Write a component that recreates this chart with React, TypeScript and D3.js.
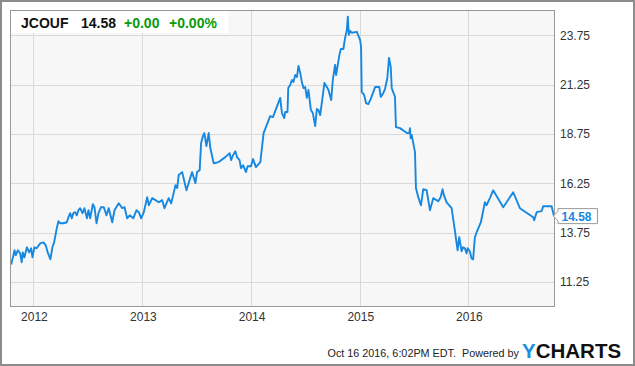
import React from "react";
import * as d3 from "d3";

// Decimal-year timestamps and closing prices
const times: number[] = [
  2011.795, 2011.807, 2011.826, 2011.837, 2011.856, 2011.878, 2011.892, 2011.902, 2011.917, 2011.94,
  2011.961, 2011.979, 2011.991, 2012.009, 2012.03, 2012.062, 2012.092, 2012.113, 2012.131, 2012.156,
  2012.174, 2012.19, 2012.214, 2012.23, 2012.245, 2012.275, 2012.306, 2012.321, 2012.337, 2012.352,
  2012.367, 2012.383, 2012.398, 2012.413, 2012.429, 2012.45, 2012.468, 2012.491, 2012.505, 2012.521,
  2012.545, 2012.56, 2012.579, 2012.597, 2012.62, 2012.646, 2012.67, 2012.691, 2012.723, 2012.744,
  2012.783, 2012.815, 2012.836, 2012.86, 2012.884, 2012.916, 2012.946, 2012.967, 2012.989, 2013.013,
  2013.044, 2013.059, 2013.09, 2013.12, 2013.151, 2013.182, 2013.203, 2013.242, 2013.265, 2013.283,
  2013.304, 2013.32, 2013.334, 2013.366, 2013.405, 2013.457, 2013.488, 2013.503, 2013.527, 2013.54,
  2013.557, 2013.57, 2013.589, 2013.61, 2013.625, 2013.656, 2013.702, 2013.763, 2013.803, 2013.816,
  2013.834, 2013.855, 2013.871, 2013.894, 2013.907, 2013.926, 2013.953, 2013.968, 2013.999, 2014.018,
  2014.045, 2014.085, 2014.115, 2014.176, 2014.201, 2014.268, 2014.284, 2014.305, 2014.314, 2014.335,
  2014.342, 2014.36, 2014.376, 2014.39, 2014.406, 2014.422, 2014.436, 2014.452, 2014.467, 2014.482,
  2014.498, 2014.513, 2014.528, 2014.55, 2014.568, 2014.59, 2014.605, 2014.62, 2014.636, 2014.675,
  2014.697, 2014.712, 2014.737, 2014.752, 2014.773, 2014.782, 2014.813, 2014.826, 2014.85, 2014.859,
  2014.865, 2014.881, 2014.89, 2014.899, 2014.911, 2014.927, 2014.973, 2015.003, 2015.012, 2015.018,
  2015.04, 2015.058, 2015.079, 2015.101, 2015.141, 2015.18, 2015.193, 2015.217, 2015.232, 2015.254,
  2015.269, 2015.285, 2015.294, 2015.324, 2015.333, 2015.37, 2015.434, 2015.456, 2015.462, 2015.468,
  2015.478, 2015.487, 2015.508, 2015.517, 2015.538, 2015.563, 2015.584, 2015.615, 2015.646, 2015.676,
  2015.722, 2015.744, 2015.762, 2015.774, 2015.799, 2015.845, 2015.875, 2015.9, 2015.915, 2015.937,
  2015.951, 2015.967, 2015.983, 2015.992, 2016.013, 2016.028, 2016.043, 2016.059, 2016.075, 2016.114,
  2016.151, 2016.166, 2016.197, 2016.227, 2016.319, 2016.411, 2016.472, 2016.594, 2016.603, 2016.626,
  2016.671, 2016.686, 2016.763, 2016.785,
];

const prices: number[] = [
  12.13, 12.39, 12.85, 12.59, 12.85, 12.69, 12.24, 12.74, 12.49, 13.0,
  12.74, 12.95, 12.49, 13.0, 12.95, 13.2, 13.25, 13.1, 12.74, 12.39,
  13.0, 13.25, 13.96, 14.32, 14.22, 14.22, 14.27, 14.52, 14.73, 14.47,
  14.73, 14.78, 14.62, 14.88, 14.98, 14.73, 14.98, 14.47, 14.88, 14.47,
  15.18, 15.03, 14.22, 14.73, 15.03, 15.03, 14.62, 14.98, 14.27, 14.88,
  15.23, 14.98, 15.03, 14.47, 14.62, 14.47, 14.88, 14.78, 14.47, 14.78,
  15.54, 15.13, 15.49, 15.39, 15.28, 15.39, 14.98, 15.49, 15.23, 15.64,
  16.15, 16.0, 16.66, 16.81, 15.89, 16.81, 16.25, 16.81, 16.91, 18.28,
  18.64, 18.79, 18.13, 18.79, 18.03, 17.26, 17.32, 17.57, 17.77, 17.42,
  17.67, 17.87, 17.57, 17.42, 17.01, 17.16, 16.81, 17.11, 17.11, 17.47,
  17.06, 17.32, 18.79, 19.65, 19.6, 20.57, 19.8, 19.55, 19.86, 19.86,
  21.07, 21.23, 21.48, 21.38, 21.73, 21.63, 22.19, 21.84, 21.38, 21.07,
  21.12, 20.57, 20.97, 19.96, 19.8, 19.14, 20.01, 19.96, 19.7, 21.33,
  21.12, 20.97, 20.46, 21.48, 22.24, 21.73, 22.75, 23.05, 23.05, 23.41,
  23.61, 24.02, 24.68, 23.77, 23.97, 23.87, 23.92, 23.51, 23.16, 20.87,
  20.72, 20.31, 20.26, 20.52, 21.12, 21.12, 20.62, 20.82, 21.02, 21.58,
  22.6, 22.14, 21.07, 20.62, 19.09, 19.04, 18.79, 18.79, 19.04, 18.53,
  18.69, 18.43, 17.82, 16.0, 15.54, 15.13, 15.94, 15.89, 14.88, 15.49,
  15.33, 15.54, 15.94, 15.64, 15.28, 14.98, 13.86, 12.85, 13.51, 12.8,
  13.0, 12.95, 12.69, 12.95, 12.8, 12.44, 12.39, 13.51, 13.76, 14.27,
  15.28, 15.13, 15.49, 15.89, 15.03, 15.79, 14.98, 14.52, 14.37, 14.78,
  14.83, 15.08, 15.08, 14.58,
];

const yTicks: number[] = [11.25, 13.75, 16.25, 18.75, 21.25, 23.75];
const xTickYears: number[] = [2012, 2013, 2014, 2015, 2016];
const ticker = "JCOUF";
const lastPrice = "14.58";
const change = "+0.00";
const changePct = "+0.00%";
const footerText = "Oct 16 2016, 6:02PM EDT.  Powered by";

function yearToDate(t: number): Date {
  const y = Math.floor(t);
  const s = new Date(y, 0, 1).getTime();
  const e = new Date(y + 1, 0, 1).getTime();
  return new Date(s + (t - y) * (e - s));
}

const W = 635;
const H = 366;
const L = 10.5;
const R = 554.5;
const T = 10.5;
const B = 306.5;

export default function App() {
  const x = d3
    .scaleTime()
    .domain([new Date(2011, 9, 16), new Date(2016, 9, 16)])
    .range([L, R]);
  const y = d3.scaleLinear().domain([10, 25]).range([B, T]);

  const pts = times.map((t, i) => ({ d: yearToDate(t), v: prices[i] }));
  const line = d3
    .line<{ d: Date; v: number }>()
    .x((p) => x(p.d))
    .y((p) => y(p.v));

  const last = pts[pts.length - 1];
  const ly = y(last.v);
  const font = "'Liberation Sans', Arial, Helvetica, sans-serif";
  const blue = "#1788e0";

  return (
    <svg
      width={W}
      height={H}
      style={{ position: "absolute", left: 0, top: 0, fontFamily: font }}
    >
      <rect x={0} y={0} width={W} height={H} fill="#fff" />
      <rect x={1} y={1} width={W - 2} height={H - 2} fill="none" stroke="#8c8c8c" strokeWidth={2} />
      <rect x={L} y={T} width={R - L} height={B - T} fill="#f7f7f7" />
      {yTicks.map((v) => (
        <line
          key={"gy" + v}
          x1={L}
          x2={R}
          y1={Math.round(y(v)) + 0.5}
          y2={Math.round(y(v)) + 0.5}
          stroke="#d9d9d9"
          strokeWidth={1}
        />
      ))}
      {xTickYears.map((yr) => {
        const xx = Math.round(x(new Date(yr, 0, 1))) + 0.5;
        return <line key={"gx" + yr} x1={xx} x2={xx} y1={T} y2={B} stroke="#d9d9d9" strokeWidth={1} />;
      })}
      <rect x={L} y={T} width={218} height={22.5} fill="#fff" />
      <path d={line(pts) || ""} fill="none" stroke={blue} strokeWidth={1.9} strokeLinejoin="round" />
      <rect x={L} y={T} width={R - L} height={B - T} fill="none" stroke="#999" strokeWidth={1} />
      {yTicks.map((v) => (
        <text key={"ty" + v} x={560} y={y(v) + 4.5} fontSize={12} fill="#333">
          {v.toFixed(2)}
        </text>
      ))}
      {xTickYears.map((yr) => (
        <text
          key={"tx" + yr}
          x={x(new Date(yr, 0, 1)) + 1}
          y={321}
          fontSize={12}
          fill="#333"
          textAnchor="middle"
        >
          {yr}
        </text>
      ))}
      <text y={27.5} fontSize={14} fontWeight="bold">
        <tspan x={21} fill="#111">{ticker}</tspan>
        <tspan x={81} fill="#111">{lastPrice}</tspan>
        <tspan x={124} fill="#0a9a0a">{change}</tspan>
        <tspan x={169} fill="#0a9a0a">{changePct}</tspan>
      </text>
      <path
        d={`M${R - 1},${ly} L${R + 3.5},${ly - 5} L${R + 3.5},${ly - 7.5} L${R + 43},${ly - 7.5} L${R + 43},${ly + 7.5} L${R + 3.5},${ly + 7.5} L${R + 3.5},${ly + 5} Z`}
        fill="#fff"
        stroke="#999"
        strokeWidth={1}
      />
      <text x={R + 7} y={ly + 4.5} fontSize={12} fontWeight="bold" fill={blue}>
        {lastPrice}
      </text>
      <text x={519} y={357} fontSize={10.8} fill="#222" textAnchor="end" style={{ whiteSpace: "pre" }}>
        {footerText}
      </text>
      <text x={522} y={357.5} fontSize={20.5} fontWeight="bold">
        <tspan fill="#1a8fe3">Y</tspan>
        <tspan fill="#111">CHARTS</tspan>
      </text>
    </svg>
  );
}
